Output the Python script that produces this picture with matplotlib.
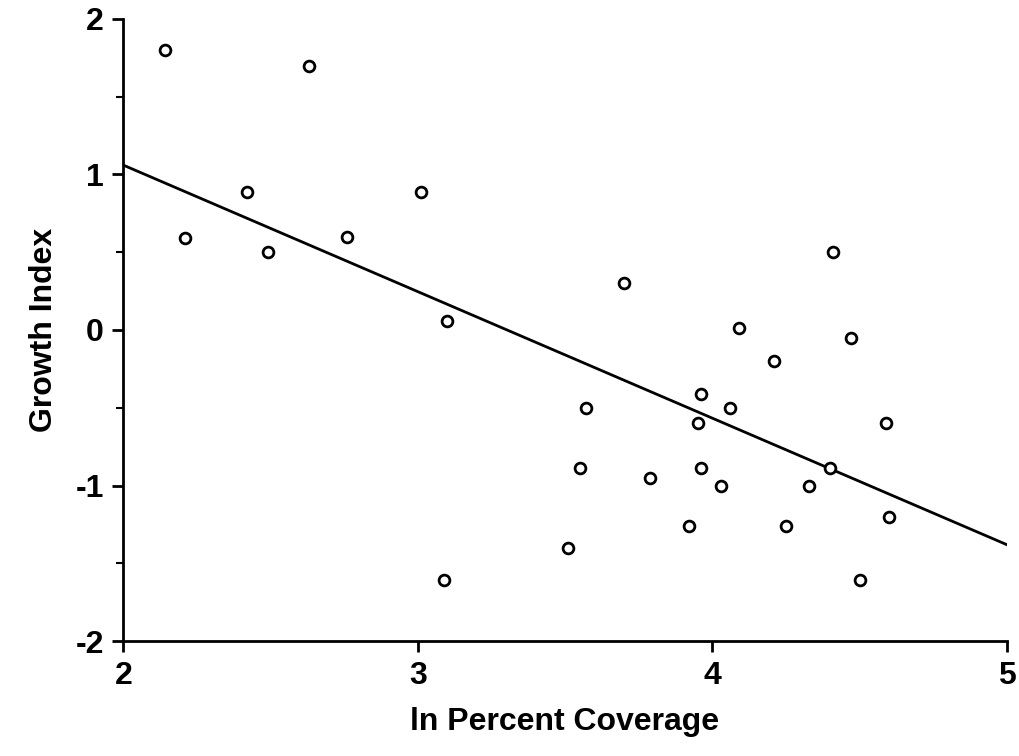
import matplotlib.pyplot as plt
from matplotlib.ticker import MultipleLocator

plt.rcParams['font.family'] = ['Liberation Sans', 'DejaVu Sans']
plt.rcParams['font.weight'] = 'bold'
plt.rcParams['axes.unicode_minus'] = False

coverage = [2.14, 2.21, 2.42, 2.49, 2.63, 2.76, 3.01, 3.10, 3.09, 3.51, 3.57, 3.55,
            3.70, 3.79, 3.92, 3.96, 3.95, 3.96, 4.03, 4.06, 4.09, 4.21, 4.25, 4.33,
            4.40, 4.41, 4.47, 4.50, 4.59, 4.60]
growth = [1.80, 0.59, 0.89, 0.50, 1.70, 0.60, 0.89, 0.06, -1.61, -1.40, -0.50, -0.89,
          0.30, -0.95, -1.26, -0.41, -0.60, -0.89, -1.00, -0.50, 0.01, -0.20, -1.26, -1.00,
          -0.89, 0.50, -0.05, -1.61, -0.60, -1.20]
fit_x = [2, 5]
fit_y = [1.06, -1.38]

fig = plt.figure(figsize=(10.19, 7.56), dpi=100)
ax = fig.add_axes([0.121, 0.152, 0.867, 0.823])
ax.scatter(coverage, growth, s=60, facecolors='white', edgecolors='black', linewidths=2, zorder=3)
ax.plot(fit_x, fit_y, color='black', lw=2)

ax.set_xlim(2, 5)
ax.set_ylim(-2, 2)
ax.xaxis.set_major_locator(MultipleLocator(1))
ax.yaxis.set_major_locator(MultipleLocator(1))
ax.yaxis.set_minor_locator(MultipleLocator(0.5))
for s in ['top', 'right']:
    ax.spines[s].set_visible(False)
for s in ['left', 'bottom']:
    ax.spines[s].set_linewidth(2)
ax.tick_params(which='major', length=8, width=2, labelsize=23, pad=6)
ax.tick_params(which='minor', length=5, width=1.5)
ax.set_xlabel('ln Percent Coverage', fontsize=23, fontweight='bold', labelpad=12)
ax.set_ylabel('Growth Index', fontsize=23, fontweight='bold', labelpad=12)

fig.savefig('out.png', dpi=100)
